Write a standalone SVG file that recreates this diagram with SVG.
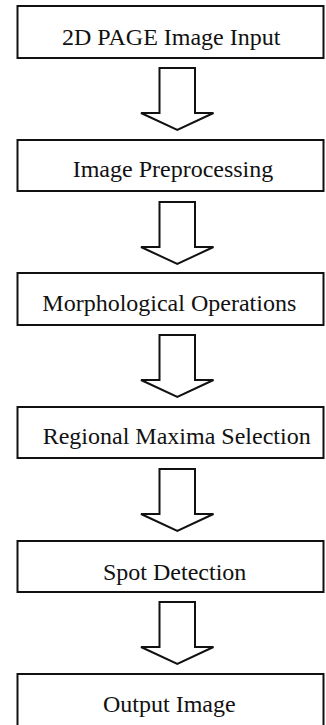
<svg xmlns="http://www.w3.org/2000/svg" width="326" height="725" viewBox="0 0 326 725">
<style>
.box{fill:#fff;stroke:#111;stroke-width:2}
.arr{fill:#fff;stroke:#111;stroke-width:2;stroke-linejoin:miter}
.lbl{font-family:"Liberation Serif","Times New Roman",serif;font-size:24px;fill:#111}
</style>
<defs>
<path id="arrow" class="arr" d="M159.5,0 H195 V45 H213.5 L177.3,62 L141,45 H159.5 Z"/>
</defs>
<rect width="326" height="725" fill="#fff"/>
<g id="connectors">
<use href="#arrow" transform="translate(0,68)"/>
<use href="#arrow" transform="translate(0,202)"/>
<use href="#arrow" transform="translate(0,335)"/>
<use href="#arrow" transform="translate(0,469)"/>
<use href="#arrow" transform="translate(0,602)"/>
</g>
<g id="n1"><rect class="box" x="17.5" y="6" width="306" height="52"/><text class="lbl" x="62" y="45">2D PAGE Image Input</text></g>
<g id="n2"><rect class="box" x="17.5" y="140" width="306" height="51"/><text class="lbl" x="72.7" y="177">Image Preprocessing</text></g>
<g id="n3"><rect class="box" x="17.5" y="273" width="306" height="52"/><text class="lbl" x="42.3" y="311">Morphological Operations</text></g>
<g id="n4"><rect class="box" x="17.5" y="407" width="306" height="51"/><text class="lbl" x="42.7" y="444">Regional Maxima Selection</text></g>
<g id="n5"><rect class="box" x="17.5" y="541" width="306" height="51"/><text class="lbl" x="103" y="580">Spot Detection</text></g>
<g id="n6"><rect class="box" x="17.5" y="674" width="306" height="53"/><text class="lbl" x="103" y="711.5">Output Image</text></g>
</svg>
